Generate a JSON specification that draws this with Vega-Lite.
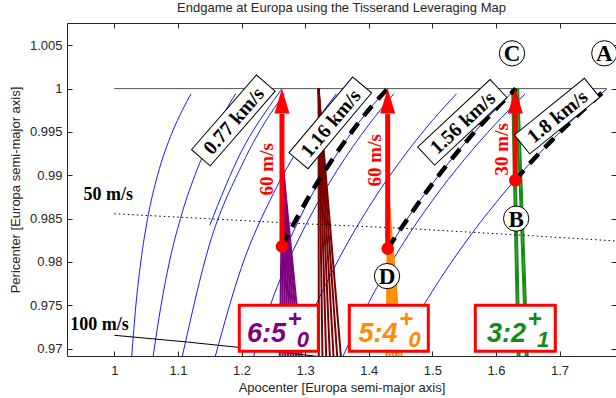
{
  "$schema": "https://vega.github.io/schema/vega-lite/v6.json",
  "width": 549,
  "height": 333,
  "autosize": {"type": "none"},
  "padding": {"left": 67, "top": 23, "right": 0, "bottom": 42},
  "background": "white",
  "title": {"text": "Endgame at Europa using the Tisserand Leveraging Map", "font": "Liberation Sans", "fontSize": 13, "fontWeight": "normal", "color": "#262626", "offset": 8, "anchor": "middle"},
  "config": {
    "view": {"stroke": "#262626", "strokeWidth": 1},
    "axis": {"grid": false, "domain": false, "labelFont": "Liberation Sans", "titleFont": "Liberation Sans", "labelFontSize": 13, "titleFontSize": 13, "titleFontWeight": "normal", "labelColor": "#262626", "titleColor": "#262626", "tickColor": "#262626", "tickSize": -5}
  },
  "resolve": {"axis": {"x": "independent", "y": "independent"}},
  "encoding": {
    "x": {"field": "ra", "type": "quantitative", "scale": {"domain": [0.9256, 1.7888], "nice": false, "zero": false}, "axis": null},
    "y": {"field": "rp", "type": "quantitative", "scale": {"domain": [0.96915, 1.00757], "nice": false, "zero": false}, "axis": null}
  },
  "layer": [
    {
      "data": {"values": [
        {"v": "0.4", "ra": 1.0274, "rp": 0.96915}, {"v": "0.4", "ra": 1.0339, "rp": 0.975}, {"v": "0.4", "ra": 1.0416, "rp": 0.98}, {"v": "0.4", "ra": 1.0523, "rp": 0.985}, {"v": "0.4", "ra": 1.068, "rp": 0.99}, {"v": "0.4", "ra": 1.0913, "rp": 0.995}, {"v": "0.4", "ra": 1.1069, "rp": 0.9975}, {"v": "0.4", "ra": 1.1207, "rp": 0.9994},
        {"v": "0.6", "ra": 1.0611, "rp": 0.96915}, {"v": "0.6", "ra": 1.0735, "rp": 0.975}, {"v": "0.6", "ra": 1.0866, "rp": 0.98}, {"v": "0.6", "ra": 1.1039, "rp": 0.985}, {"v": "0.6", "ra": 1.1267, "rp": 0.99}, {"v": "0.6", "ra": 1.1568, "rp": 0.995}, {"v": "0.6", "ra": 1.1907, "rp": 0.9994},
        {"v": "0.8", "ra": 1.107, "rp": 0.96915}, {"v": "0.8", "ra": 1.15, "rp": 0.9821}, {"v": "0.8", "ra": 1.2, "rp": 0.9911}, {"v": "0.8", "ra": 1.25, "rp": 0.9976}, {"v": "0.8", "ra": 1.2676, "rp": 0.9994},
        {"v": "1.0", "ra": 1.1589, "rp": 0.96915}, {"v": "1.0", "ra": 1.2, "rp": 0.97939}, {"v": "1.0", "ra": 1.25, "rp": 0.98788}, {"v": "1.0", "ra": 1.3, "rp": 0.99431}, {"v": "1.0", "ra": 1.349, "rp": 0.9994},
        {"v": "1.2", "ra": 1.2191, "rp": 0.96915}, {"v": "1.2", "ra": 1.25, "rp": 0.97597}, {"v": "1.2", "ra": 1.3, "rp": 0.98411}, {"v": "1.2", "ra": 1.35, "rp": 0.99053}, {"v": "1.2", "ra": 1.4, "rp": 0.99582}, {"v": "1.2", "ra": 1.4395, "rp": 0.9994},
        {"v": "1.4", "ra": 1.2857, "rp": 0.96915}, {"v": "1.4", "ra": 1.3, "rp": 0.97205}, {"v": "1.4", "ra": 1.35, "rp": 0.97992}, {"v": "1.4", "ra": 1.4, "rp": 0.9863}, {"v": "1.4", "ra": 1.45, "rp": 0.99167}, {"v": "1.4", "ra": 1.5, "rp": 0.99631}, {"v": "1.4", "ra": 1.538, "rp": 0.9994},
        {"v": "1.6", "ra": 1.3597, "rp": 0.96915}, {"v": "1.6", "ra": 1.4, "rp": 0.97531}, {"v": "1.6", "ra": 1.45, "rp": 0.98167}, {"v": "1.6", "ra": 1.5, "rp": 0.98708}, {"v": "1.6", "ra": 1.55, "rp": 0.99179}, {"v": "1.6", "ra": 1.6, "rp": 0.99597}, {"v": "1.6", "ra": 1.6459, "rp": 0.9994},
        {"v": "1.8", "ra": 1.4422, "rp": 0.96915}, {"v": "1.8", "ra": 1.45, "rp": 0.97032}, {"v": "1.8", "ra": 1.5, "rp": 0.97662}, {"v": "1.8", "ra": 1.55, "rp": 0.98206}, {"v": "1.8", "ra": 1.6, "rp": 0.98684}, {"v": "1.8", "ra": 1.65, "rp": 0.99109}, {"v": "1.8", "ra": 1.7, "rp": 0.99492}, {"v": "1.8", "ra": 1.75, "rp": 0.9984}, {"v": "1.8", "ra": 1.7746, "rp": 1.0},
        {"v": "0.77", "ra": 1.15, "rp": 0.98423}, {"v": "0.77", "ra": 1.2, "rp": 0.99278}, {"v": "0.77", "ra": 1.25, "rp": 0.9986}, {"v": "0.77", "ra": 1.2636, "rp": 1.0},
        {"v": "1.16", "ra": 1.2636, "rp": 0.9806}, {"v": "1.16", "ra": 1.3, "rp": 0.9863}, {"v": "1.16", "ra": 1.35, "rp": 0.99245}, {"v": "1.16", "ra": 1.4, "rp": 0.99755}, {"v": "1.16", "ra": 1.43, "rp": 1.0},
        {"v": "1.56", "ra": 1.43, "rp": 0.98131}, {"v": "1.56", "ra": 1.45, "rp": 0.98377}, {"v": "1.56", "ra": 1.5, "rp": 0.98902}, {"v": "1.56", "ra": 1.55, "rp": 0.9936}, {"v": "1.56", "ra": 1.6, "rp": 0.99766}, {"v": "1.56", "ra": 1.6314, "rp": 1.0}
      ]},
      "mark": {"type": "line", "color": "#1a1aff", "strokeWidth": 1, "interpolate": "monotone", "clip": true},
      "encoding": {
        "detail": {"field": "v"},
        "x": {"field": "ra", "type": "quantitative", "scale": {"domain": [0.9256, 1.7888], "nice": false, "zero": false},
              "axis": {"orient": "bottom", "values": [1, 1.1, 1.2, 1.3, 1.4, 1.5, 1.6, 1.7], "format": "~g", "labelPadding": 13, "title": "Apocenter [Europa semi-major axis]", "titlePadding": 4}},
        "y": {"field": "rp", "type": "quantitative", "scale": {"domain": [0.96915, 1.00757], "nice": false, "zero": false},
              "axis": {"orient": "left", "values": [0.97, 0.975, 0.98, 0.985, 0.99, 0.995, 1, 1.005], "format": "~g", "labelPadding": 10, "title": "Pericenter [Europa semi-major axis]", "titlePadding": 7}}
      }
    },
    {
      "data": {"values": [{"ra": 1.0, "rp": 1.0}, {"ra": 1.7746, "rp": 1.0}]},
      "mark": {"type": "line", "color": "#555555", "strokeWidth": 1},
      "encoding": {
        "x": {"field": "ra", "type": "quantitative", "scale": {"domain": [0.9256, 1.7888], "nice": false, "zero": false},
              "axis": {"orient": "top", "values": [1, 1.1, 1.2, 1.3, 1.4, 1.5, 1.6, 1.7], "labels": false, "title": null}},
        "y": {"field": "rp", "type": "quantitative", "scale": {"domain": [0.96915, 1.00757], "nice": false, "zero": false},
              "axis": {"orient": "right", "values": [0.97, 0.975, 0.98, 0.985, 0.99, 0.995, 1, 1.005], "labels": false, "title": null}}
      }
    },
    {
      "data": {"values": [
        {"g": "p", "id": "p1", "ra": 1.2645, "rp": 0.9915}, {"g": "p", "id": "p1", "ra": 1.26, "rp": 0.968},
        {"g": "p", "id": "p2", "ra": 1.2645, "rp": 0.9915}, {"g": "p", "id": "p2", "ra": 1.2645, "rp": 0.968},
        {"g": "p", "id": "p3", "ra": 1.2645, "rp": 0.9915}, {"g": "p", "id": "p3", "ra": 1.269, "rp": 0.968},
        {"g": "p", "id": "p4", "ra": 1.2645, "rp": 0.9915}, {"g": "p", "id": "p4", "ra": 1.2735, "rp": 0.968},
        {"g": "p", "id": "p5", "ra": 1.2645, "rp": 0.9915}, {"g": "p", "id": "p5", "ra": 1.278, "rp": 0.968},
        {"g": "p", "id": "p6", "ra": 1.2645, "rp": 0.9915}, {"g": "p", "id": "p6", "ra": 1.2825, "rp": 0.968},
        {"g": "p", "id": "p7", "ra": 1.2645, "rp": 0.9915}, {"g": "p", "id": "p7", "ra": 1.287, "rp": 0.968},
        {"g": "p", "id": "p8", "ra": 1.2645, "rp": 0.9915}, {"g": "p", "id": "p8", "ra": 1.2915, "rp": 0.968},
        {"g": "p", "id": "p9", "ra": 1.2645, "rp": 0.9915}, {"g": "p", "id": "p9", "ra": 1.296, "rp": 0.968},
        {"g": "m", "id": "m1", "ra": 1.3212, "rp": 1.0}, {"g": "m", "id": "m1", "ra": 1.3215, "rp": 0.968},
        {"g": "m", "id": "m2", "ra": 1.3212, "rp": 1.0}, {"g": "m", "id": "m2", "ra": 1.3275, "rp": 0.968},
        {"g": "m", "id": "m3", "ra": 1.3212, "rp": 1.0}, {"g": "m", "id": "m3", "ra": 1.3335, "rp": 0.968},
        {"g": "m", "id": "m4", "ra": 1.3212, "rp": 1.0}, {"g": "m", "id": "m4", "ra": 1.3395, "rp": 0.968},
        {"g": "m", "id": "m5", "ra": 1.3212, "rp": 1.0}, {"g": "m", "id": "m5", "ra": 1.3455, "rp": 0.968},
        {"g": "m", "id": "m6", "ra": 1.3212, "rp": 1.0}, {"g": "m", "id": "m6", "ra": 1.3515, "rp": 0.968},
        {"g": "m", "id": "m7", "ra": 1.3212, "rp": 1.0}, {"g": "m", "id": "m7", "ra": 1.3575, "rp": 0.968},
        {"g": "o", "id": "o1", "ra": 1.4305, "rp": 0.988}, {"g": "o", "id": "o1", "ra": 1.428, "rp": 0.968},
        {"g": "o", "id": "o2", "ra": 1.4305, "rp": 0.988}, {"g": "o", "id": "o2", "ra": 1.433, "rp": 0.968},
        {"g": "o", "id": "o3", "ra": 1.4305, "rp": 0.988}, {"g": "o", "id": "o3", "ra": 1.438, "rp": 0.968},
        {"g": "o", "id": "o4", "ra": 1.4305, "rp": 0.988}, {"g": "o", "id": "o4", "ra": 1.443, "rp": 0.968},
        {"g": "o", "id": "o5", "ra": 1.4305, "rp": 0.988}, {"g": "o", "id": "o5", "ra": 1.448, "rp": 0.968},
        {"g": "o", "id": "o6", "ra": 1.4305, "rp": 0.988}, {"g": "o", "id": "o6", "ra": 1.453, "rp": 0.968},
        {"g": "g", "id": "g1", "ra": 1.6255, "rp": 1.0}, {"g": "g", "id": "g1", "ra": 1.6345, "rp": 0.968},
        {"g": "g", "id": "g2", "ra": 1.6285, "rp": 1.0}, {"g": "g", "id": "g2", "ra": 1.6375, "rp": 0.968},
        {"g": "g", "id": "g3", "ra": 1.632, "rp": 1.0}, {"g": "g", "id": "g3", "ra": 1.6475, "rp": 0.968},
        {"g": "g", "id": "g4", "ra": 1.635, "rp": 1.0}, {"g": "g", "id": "g4", "ra": 1.6505, "rp": 0.968}
      ]},
      "mark": {"type": "line", "strokeWidth": 2, "clip": true},
      "encoding": {
        "detail": {"field": "id"},
        "color": {"field": "g", "type": "nominal", "scale": {"domain": ["p", "m", "o", "g"], "range": ["#7f007f", "#7a0000", "#ff8c00", "#168a16"]}, "legend": null}
      }
    },
    {
      "data": {"values": [{"ra": 1.0, "rp": 0.98556}, {"ra": 1.3, "rp": 0.9844}, {"ra": 1.45, "rp": 0.9839}, {"ra": 1.65, "rp": 0.98305}, {"ra": 1.7893, "rp": 0.98242}]},
      "mark": {"type": "line", "color": "#000000", "strokeWidth": 1, "strokeDash": [1.5, 3], "clip": true},
      "encoding": {}
    },
    {
      "data": {"values": [{"ra": 1.0, "rp": 0.97154}, {"ra": 1.115, "rp": 0.97076}, {"ra": 1.195, "rp": 0.97015}, {"ra": 1.32, "rp": 0.9691}]},
      "mark": {"type": "line", "color": "#000000", "strokeWidth": 1, "clip": true},
      "encoding": {}
    },
    {
      "data": {"values": [
        {"s": "a", "ra": 1.6305, "rp": 0.98942}, {"s": "a", "ra": 1.65, "rp": 0.99109}, {"s": "a", "ra": 1.7, "rp": 0.99492}, {"s": "a", "ra": 1.75, "rp": 0.9984}, {"s": "a", "ra": 1.7746, "rp": 1.0},
        {"s": "b", "ra": 1.4298, "rp": 0.98154}, {"s": "b", "ra": 1.45, "rp": 0.98377}, {"s": "b", "ra": 1.5, "rp": 0.98902}, {"s": "b", "ra": 1.55, "rp": 0.9936}, {"s": "b", "ra": 1.6, "rp": 0.99766}, {"s": "b", "ra": 1.6314, "rp": 1.0},
        {"s": "c", "ra": 1.2636, "rp": 0.9818}, {"s": "c", "ra": 1.3, "rp": 0.9868}, {"s": "c", "ra": 1.35, "rp": 0.9926}, {"s": "c", "ra": 1.4, "rp": 0.99755}, {"s": "c", "ra": 1.43, "rp": 1.0}
      ]},
      "mark": {"type": "line", "color": "#000000", "strokeWidth": 4.5, "strokeDash": [13, 9], "interpolate": "monotone"},
      "encoding": {"detail": {"field": "s"}}
    },
    {
      "data": {"values": [{"ra": 1.2636, "rp": 0.9818, "top": 0.9971}, {"ra": 1.4298, "rp": 0.98154, "top": 0.9971}, {"ra": 1.6305, "rp": 0.98942, "top": 0.9971}]},
      "mark": {"type": "rule", "color": "#ff0000", "strokeWidth": 5},
      "encoding": {"y2": {"field": "top"}}
    },
    {
      "data": {"values": [{"ra": 1.2636, "rp": 1.0}, {"ra": 1.4298, "rp": 1.0}, {"ra": 1.6305, "rp": 1.0}]},
      "mark": {"type": "point", "shape": "M0,0L0.6,2L-0.6,2Z", "size": 625, "filled": true, "color": "#ff0000", "opacity": 1},
      "encoding": {}
    },
    {
      "data": {"values": [{"ra": 1.2636, "rp": 0.9818}, {"ra": 1.4298, "rp": 0.98154}, {"ra": 1.6305, "rp": 0.98942}]},
      "mark": {"type": "point", "shape": "circle", "size": 160, "filled": true, "color": "#ff0000", "opacity": 1},
      "encoding": {}
    },
    {
      "data": {"values": [{"t": "60 m/s", "ra": 1.2401, "rp": 0.99069}, {"t": "60 m/s", "ra": 1.4093, "rp": 0.99173}, {"t": "30 m/s", "ra": 1.6094, "rp": 0.993}]},
      "mark": {"type": "text", "angle": 270, "font": "Liberation Serif", "fontWeight": "bold", "fontSize": 19, "color": "#ff0000", "align": "center", "baseline": "middle"},
      "encoding": {"text": {"field": "t"}}
    },
    {
      "data": {"values": [{"t": "0.77 km/s", "ra": 1.1871, "rp": 0.99633}]},
      "layer": [
        {"mark": {"type": "point", "shape": "M-1,-0.25L1,-0.25L1,0.25L-1,0.25Z", "size": 9800, "angle": -49, "filled": true, "fill": "#ffffff", "stroke": "#000000", "strokeWidth": 1, "opacity": 1}, "encoding": {}},
        {"mark": {"type": "text", "angle": -49, "font": "Liberation Serif", "fontWeight": "bold", "fontSize": 20, "color": "#000000", "align": "center", "baseline": "middle", "dy": 1}, "encoding": {"text": {"field": "t"}}}
      ]
    },
    {
      "data": {"values": [{"t": "1.16 km/s", "ra": 1.3396, "rp": 0.99605}]},
      "layer": [
        {"mark": {"type": "point", "shape": "M-1,-0.25L1,-0.25L1,0.25L-1,0.25Z", "size": 9800, "angle": -50, "filled": true, "fill": "#ffffff", "stroke": "#000000", "strokeWidth": 1, "opacity": 1}, "encoding": {}},
        {"mark": {"type": "text", "angle": -50, "font": "Liberation Serif", "fontWeight": "bold", "fontSize": 20, "color": "#000000", "align": "center", "baseline": "middle", "dy": 1}, "encoding": {"text": {"field": "t"}}}
      ]
    },
    {
      "data": {"values": [{"t": "1.56 km/s", "ra": 1.5472, "rp": 0.99611}]},
      "layer": [
        {"mark": {"type": "point", "shape": "M-1,-0.25L1,-0.25L1,0.25L-1,0.25Z", "size": 9800, "angle": -43, "filled": true, "fill": "#ffffff", "stroke": "#000000", "strokeWidth": 1, "opacity": 1}, "encoding": {}},
        {"mark": {"type": "text", "angle": -43, "font": "Liberation Serif", "fontWeight": "bold", "fontSize": 20, "color": "#000000", "align": "center", "baseline": "middle", "dy": 1}, "encoding": {"text": {"field": "t"}}}
      ]
    },
    {
      "data": {"values": [{"t": "1.8 km/s", "ra": 1.6961, "rp": 0.99683}]},
      "layer": [
        {"mark": {"type": "point", "shape": "M-1,-0.27L1,-0.27L1,0.27L-1,0.27Z", "size": 8100, "angle": -39, "filled": true, "fill": "#ffffff", "stroke": "#000000", "strokeWidth": 1, "opacity": 1}, "encoding": {}},
        {"mark": {"type": "text", "angle": -39, "font": "Liberation Serif", "fontWeight": "bold", "fontSize": 20, "color": "#000000", "align": "center", "baseline": "middle", "dy": 1}, "encoding": {"text": {"field": "t"}}}
      ]
    },
    {
      "data": {"values": [{"t": "A", "ra": 1.7704, "rp": 1.00407}, {"t": "C", "ra": 1.6253, "rp": 1.00407}, {"t": "B", "ra": 1.6318, "rp": 0.985}, {"t": "D", "ra": 1.4288, "rp": 0.97837}]},
      "layer": [
        {"mark": {"type": "point", "shape": "circle", "size": 640, "filled": true, "fill": "#ffffff", "stroke": "#000000", "strokeWidth": 1, "opacity": 1}, "encoding": {}},
        {"mark": {"type": "text", "font": "Liberation Serif", "fontWeight": "bold", "fontSize": 23, "color": "#000000", "align": "center", "baseline": "middle", "dy": 1}, "encoding": {"text": {"field": "t"}}}
      ]
    },
    {
      "data": {"values": [{"ra": 1.1965, "ra2": 1.3208, "rp": 0.975, "rp2": 0.96969}, {"ra": 1.3695, "ra2": 1.4937, "rp": 0.975, "rp2": 0.96969}, {"ra": 1.5676, "ra2": 1.6934, "rp": 0.975, "rp2": 0.96969}]},
      "mark": {"type": "rect", "fill": "#ffffff", "stroke": "#ff0000", "strokeWidth": 3},
      "encoding": {"x2": {"field": "ra2"}, "y2": {"field": "rp2"}}
    },
    {
      "data": {"values": [{"g": "p", "main": "6:5", "sub": "0", "ra": 1.2086, "rp": 0.97073}, {"g": "o", "main": "5:4", "sub": "0", "ra": 1.3841, "rp": 0.97073}, {"g": "g", "main": "3:2", "sub": "1", "ra": 1.586, "rp": 0.97073}]},
      "encoding": {"color": {"field": "g", "type": "nominal", "scale": {"domain": ["p", "m", "o", "g"], "range": ["#7f007f", "#7a0000", "#ff9000", "#1a961a"]}, "legend": null}},
      "layer": [
        {"mark": {"type": "text", "font": "Liberation Sans", "fontWeight": "bold", "fontStyle": "italic", "fontSize": 27, "align": "left", "baseline": "alphabetic"}, "encoding": {"text": {"field": "main"}}},
        {"mark": {"type": "text", "font": "Liberation Sans", "fontWeight": "bold", "fontSize": 24, "align": "center", "baseline": "middle", "dx": 48, "dy": -22, "text": "+"}, "encoding": {}},
        {"mark": {"type": "text", "font": "Liberation Sans", "fontWeight": "bold", "fontStyle": "italic", "fontSize": 22, "align": "center", "baseline": "alphabetic", "dx": 56, "dy": 5}, "encoding": {"text": {"field": "sub"}}}
      ]
    },
    {
      "data": {"values": [{"t": "50 m/s", "ra": 0.95173, "rp": 0.98711}, {"t": "100 m/s", "ra": 0.93082, "rp": 0.97219}]},
      "mark": {"type": "text", "font": "Liberation Serif", "fontWeight": "bold", "fontSize": 18, "color": "#000000", "align": "left", "baseline": "alphabetic"},
      "encoding": {"text": {"field": "t"}}
    }
  ]
}
